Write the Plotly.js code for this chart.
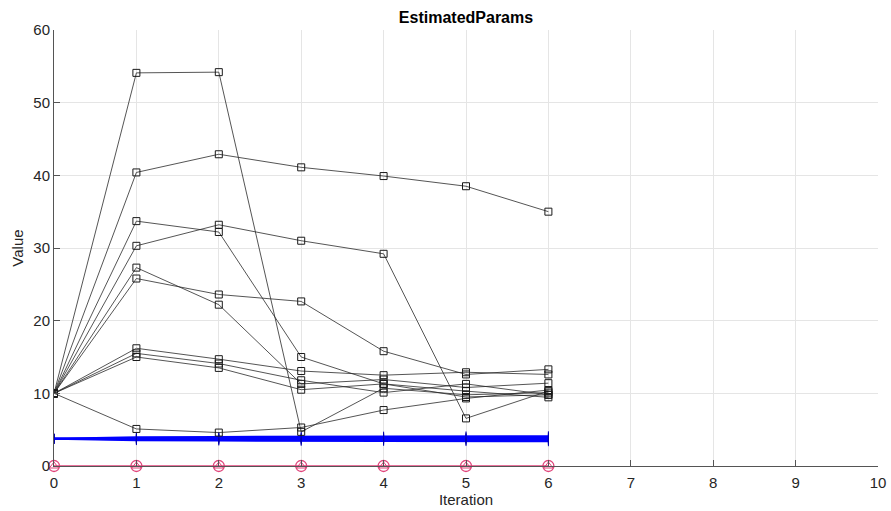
<!DOCTYPE html>
<html>
<head>
<meta charset="utf-8">
<script src="https://cdn.plot.ly/plotly-3.0.1.min.js"></script>
<style>html,body{margin:0;padding:0;background:#fff;}#chart{width:891px;height:511px;}</style>
</head>
<body>
<div id="chart"></div>
<script>
const iterations = [0, 1, 2, 3, 4, 5, 6];

// Estimated parameter traces (black, square markers)
const paramA = [10, 40.4, 42.9, 41.1, 39.9, 38.5, 35.0];
const paramB = [10, 54.1, 54.2, 4.7, 10.7, 9.8, 10.1];
const paramC = [10, 5.1, 4.6, 5.3, 7.7, 9.3, 10.45];
const paramD = [10, 30.3, 33.2, 31.0, 29.2, 6.55, 10.3];
const paramE = [10, 33.7, 32.2, 15.0, 11.3, 9.5, 9.8];
const paramF = [10, 27.3, 22.2, 11.3, 11.9, 10.8, 11.4];
const paramG = [10, 25.8, 23.6, 22.65, 15.8, 12.6, 13.3];
const paramH = [10, 16.2, 14.7, 13.07, 12.5, 12.9, 12.6];
const paramI = [10, 15.5, 14.1, 11.8, 10.1, 11.3, 9.8];
const paramJ = [10, 15.0, 13.5, 10.5, 11.3, 10.3, 9.45];

// Blue band traces ("+" markers)
const blue1 = [3.75, 3.55, 3.50, 3.45, 3.45, 3.42, 3.40];
const blue2 = [3.75, 3.65, 3.62, 3.60, 3.60, 3.58, 3.57];
const blue3 = [3.75, 3.75, 3.75, 3.75, 3.75, 3.75, 3.75];
const blue4 = [3.75, 3.85, 3.88, 3.90, 3.90, 3.92, 3.93];
const blue5 = [3.75, 3.95, 4.00, 4.05, 4.05, 4.08, 4.10];

// Red trace at zero
const redValues = [0, 0, 0, 0, 0, 0, 0];

const xTicks = [0, 1, 2, 3, 4, 5, 6, 7, 8, 9, 10];
const yTicks = [0, 10, 20, 30, 40, 50, 60];

const blackSeries = [paramA, paramB, paramC, paramD, paramE, paramF, paramG, paramH, paramI, paramJ];
const blueSeries = [blue1, blue2, blue3, blue4, blue5];

const traces = [];
blueSeries.forEach(function (s) {
  traces.push({
    x: iterations, y: s, type: 'scatter', mode: 'lines+markers',
    line: {color: 'rgb(0,0,255)', width: 2},
    marker: {symbol: 'line-ns-open', size: 7, color: 'rgb(0,0,170)', line: {width: 1, color: 'rgb(0,0,170)'}},
    hoverinfo: 'skip', showlegend: false
  });
});
blackSeries.forEach(function (s) {
  traces.push({
    x: iterations, y: s, type: 'scatter', mode: 'lines+markers',
    line: {color: '#2a2a2a', width: 0.8},
    marker: {symbol: 'square-open', size: 7, color: '#1a1a1a', line: {width: 1, color: '#1a1a1a'}},
    showlegend: false
  });
});
traces.push({
  x: iterations, y: redValues, type: 'scatter', mode: 'lines+markers',
  line: {color: '#e0457b', width: 1.3},
  marker: {symbol: 'circle-open', size: 11, color: '#e0457b', line: {width: 1.3, color: '#e0457b'}},
  cliponaxis: false, showlegend: false
});
traces.push({
  x: iterations, y: redValues, type: 'scatter', mode: 'markers',
  marker: {symbol: 'triangle-up-open', size: 8, color: '#e0457b', line: {width: 1, color: '#e0457b'}},
  cliponaxis: false, showlegend: false
});

const axisFont = {family: 'Liberation Sans, Arial, sans-serif', size: 15, color: '#262626'};

const layout = {
  width: 891, height: 511,
  margin: {l: 54, r: 13, t: 30, b: 45},
  paper_bgcolor: '#ffffff', plot_bgcolor: '#ffffff',
  title: {text: '<b>EstimatedParams</b>', font: {family: 'Liberation Sans, Arial, sans-serif', size: 16, color: '#000'}, xref: 'paper', x: 0.5, xanchor: 'center', y: 0.965, yanchor: 'middle'},
  xaxis: {
    range: [0, 10], tickvals: xTicks, ticktext: xTicks.map(String),
    showgrid: true, gridcolor: '#e5e5e5', gridwidth: 1,
    zeroline: false, showline: true, linecolor: '#555', linewidth: 1,
    ticks: 'inside', ticklen: 6, tickcolor: '#555',
    tickfont: axisFont, ticklabelstandoff: 3,
    title: {text: 'Iteration', font: axisFont, standoff: 4}
  },
  yaxis: {
    range: [0, 60], tickvals: yTicks, ticktext: yTicks.map(String),
    showgrid: true, gridcolor: '#e5e5e5', gridwidth: 1,
    zeroline: false, showline: true, linecolor: '#555', linewidth: 1,
    ticks: 'inside', ticklen: 6, tickcolor: '#555',
    tickfont: axisFont,
    title: {text: 'Value', font: axisFont, standoff: 6}
  },
  showlegend: false
};

Plotly.newPlot('chart', traces, layout, {staticPlot: true, displayModeBar: false});
</script>
</body>
</html>
